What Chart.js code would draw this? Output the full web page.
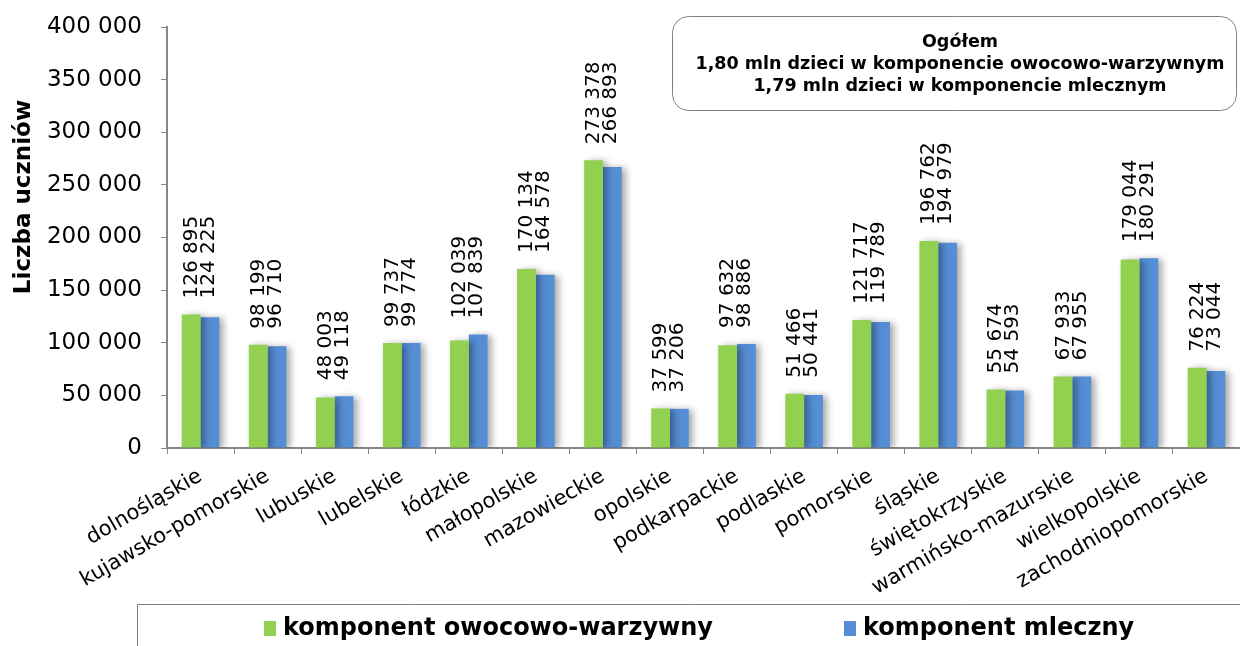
<!DOCTYPE html>
<html>
<head>
<meta charset="utf-8">
<script src="https://cdn.jsdelivr.net/npm/chart.js@4/dist/chart.umd.min.js"></script>
<style>
    html, body { margin: 0; padding: 0; background: #fff; }
    #wrap { width: 1240px; height: 646px; }
</style>
</head>
<body>
<div id="wrap"><canvas id="chart"></canvas></div>
<script>
    "use strict";

    // Data
    var regions = ["dolnośląskie", "kujawsko-pomorskie", "lubuskie", "lubelskie", "łódzkie", "małopolskie",
        "mazowieckie", "opolskie", "podkarpackie", "podlaskie", "pomorskie", "śląskie", "świętokrzyskie",
        "warmińsko-mazurskie", "wielkopolskie", "zachodniopomorskie"];
    var owocowoWarzywny = [126895, 98199, 48003, 99737, 102039, 170134, 273378, 37599, 97632, 51466,
        121717, 196762, 55674, 67933, 179044, 76224];
    var mleczny = [124225, 96710, 49118, 99774, 107839, 164578, 266893, 37206, 98886, 50441,
        119789, 194979, 54593, 67955, 180291, 73044];
    var seriesNames = ["komponent owocowo-warzywny", "komponent mleczny"];
    var yTicks = [0, 50000, 100000, 150000, 200000, 250000, 300000, 350000, 400000];
    var boxLines = ["Ogółem", "1,80 mln dzieci w komponencie owocowo-warzywnym", "1,79 mln dzieci w komponencie mlecznym"];
    var yTitle = "Liczba uczniów";

    var FONT = "'DejaVu Sans', Verdana, sans-serif";
    var axisColor = "#868686";

    function fmt(v) {
        return String(v).replace(/\B(?=(\d{3})+(?!\d))/g, " ");
    }

    // Soft shadow behind the bars
    var barShadow = {
        id: "barShadow",
        beforeDatasetsDraw: function (chart) {
            var ctx = chart.ctx;
            ctx.save();
            ctx.shadowColor = "rgba(0, 0, 0, 0.35)";
            ctx.shadowBlur = 7;
            ctx.shadowOffsetX = 4;
            ctx.shadowOffsetY = 1;
        },
        afterDatasetsDraw: function (chart) {
            chart.ctx.restore();
        }
    };

    // Value labels, rotated, two lines above each pair of bars
    var valueLabels = {
        id: "valueLabels",
        afterDatasetsDraw: function (chart) {
            var ctx = chart.ctx;
            var x = chart.scales.x, y = chart.scales.y;
            ctx.save();
            ctx.fillStyle = "#000";
            ctx.font = "20px " + FONT;
            ctx.textAlign = "left";
            ctx.textBaseline = "middle";
            regions.forEach(function (r, i) {
                var cx = x.getPixelForValue(i);
                var top = y.getPixelForValue(Math.max(owocowoWarzywny[i], mleczny[i])) - 16;
                [owocowoWarzywny[i], mleczny[i]].forEach(function (v, k) {
                    ctx.save();
                    ctx.translate(cx - 9 + k * 17, top);
                    ctx.rotate(-Math.PI / 2);
                    ctx.fillText(fmt(v), 0, 0);
                    ctx.restore();
                });
            });
            ctx.restore();
        }
    };

    // Axis title, annotation box and legend
    var extras = {
        id: "extras",
        afterDraw: function (chart) {
            var ctx = chart.ctx;
            ctx.save();

            // y axis title
            ctx.save();
            ctx.translate(24, 197);
            ctx.rotate(-Math.PI / 2);
            ctx.font = "bold 23px " + FONT;
            ctx.fillStyle = "#000";
            ctx.textAlign = "center";
            ctx.textBaseline = "middle";
            ctx.fillText(yTitle, 0, 0);
            ctx.restore();

            // annotation box
            ctx.beginPath();
            ctx.roundRect(672.5, 16.5, 564, 94, 16);
            ctx.fillStyle = "#fff";
            ctx.fill();
            ctx.strokeStyle = "#7f7f7f";
            ctx.lineWidth = 1;
            ctx.stroke();
            ctx.font = "bold 17.5px " + FONT;
            ctx.fillStyle = "#000";
            ctx.textAlign = "center";
            ctx.textBaseline = "middle";
            boxLines.forEach(function (t, i) {
                ctx.fillText(t, 960, 42 + i * 22);
            });

            // legend frame
            ctx.beginPath();
            ctx.moveTo(137.5, 660);
            ctx.lineTo(137.5, 604.5);
            ctx.lineTo(1250, 604.5);
            ctx.strokeStyle = "#7f7f7f";
            ctx.stroke();

            // legend items
            var starts = [264, 844];
            ctx.font = "bold 24px " + FONT;
            ctx.textAlign = "left";
            chart.data.datasets.forEach(function (ds, i) {
                ctx.fillStyle = ds.backgroundColor;
                ctx.fillRect(starts[i], 621, 12, 15);
                ctx.fillStyle = "#000";
                ctx.fillText(ds.label, starts[i] + 19, 629);
            });
            ctx.restore();
        }
    };

    var ctx = document.getElementById("chart").getContext("2d");
    var myChart = new Chart(ctx, {
        type: "bar",
        data: {
            labels: regions,
            datasets: [{
                label: seriesNames[0],
                data: owocowoWarzywny,
                backgroundColor: "#92d050",
                categoryPercentage: 0.56,
                barPercentage: 1.0
            }, {
                label: seriesNames[1],
                data: mleczny,
                backgroundColor: "#558ed5",
                categoryPercentage: 0.56,
                barPercentage: 1.0
            }]
        },
        options: {
            responsive: true,
            maintainAspectRatio: false,
            animation: false,
            layout: { padding: { top: 27, right: 0, left: 0, bottom: 40 } },
            plugins: {
                legend: { display: false },
                tooltip: { enabled: false }
            },
            scales: {
                x: {
                    grid: { drawOnChartArea: false, offset: true, tickLength: 6, color: axisColor, lineWidth: 1 },
                    border: { color: axisColor, width: 2 },
                    ticks: {
                        autoSkip: false,
                        minRotation: 30,
                        maxRotation: 30,
                        color: "#000",
                        padding: 10,
                        font: { family: FONT, size: 21 }
                    },
                    afterFit: function (scale) {
                        scale.height = 158;
                        scale.paddingTop = 0;
                        scale.paddingBottom = 0;
                    }
                },
                y: {
                    min: 0,
                    max: 400000,
                    afterBuildTicks: function (scale) {
                        scale.ticks = yTicks.map(function (v) { return { value: v }; });
                    },
                    grid: { drawOnChartArea: false, tickLength: 6, color: axisColor, lineWidth: 1 },
                    border: { color: axisColor, width: 2 },
                    ticks: {
                        color: "#000",
                        padding: 19,
                        font: { family: FONT, size: 23 },
                        callback: function (v) { return fmt(v); }
                    },
                    afterFit: function (scale) {
                        scale.width = 167;
                        scale.paddingTop = 0;
                        scale.paddingBottom = 0;
                    }
                }
            }
        },
        plugins: [barShadow, valueLabels, extras]
    });
</script>
</body>
</html>
